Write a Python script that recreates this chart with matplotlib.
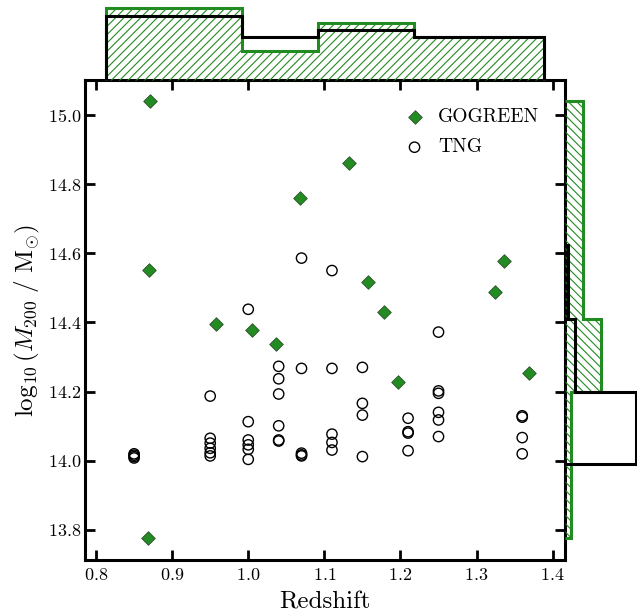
import matplotlib
matplotlib.use('Agg')
import matplotlib.pyplot as plt

plt.rcParams['font.family'] = ['cmr10', 'DejaVu Serif']
plt.rcParams['mathtext.fontset'] = 'cm'
plt.rcParams['axes.formatter.use_mathtext'] = True
plt.rcParams['hatch.linewidth'] = 0.8

# ---- data ----
gogreen_z = [0.871, 0.870, 0.957, 1.005, 1.036, 1.068, 1.132, 1.158, 1.178,
             1.197, 1.324, 1.336, 1.369, 0.868]
gogreen_m = [15.040, 14.553, 14.396, 14.377, 14.339, 14.759, 14.860, 14.516,
             14.429, 14.229, 14.489, 14.578, 14.253, 13.778]

tng_z = ([0.85] * 4 + [0.95] * 6 + [1.00] * 6 + [1.04] * 6 + [1.07] * 5 +
         [1.11] * 5 + [1.15] * 4 + [1.21] * 4 + [1.25] * 6 + [1.36] * 4)
tng_m = [14.020, 14.016, 14.012, 14.008,
         14.187, 14.065, 14.051, 14.036, 14.023, 14.014,
         14.438, 14.113, 14.060, 14.046, 14.033, 14.004,
         14.273, 14.237, 14.193, 14.101, 14.060, 14.057,
         14.586, 14.267, 14.022, 14.017, 14.014,
         14.550, 14.267, 14.077, 14.053, 14.031,
         14.270, 14.166, 14.132, 14.012,
         14.123, 14.084, 14.080, 14.029,
         14.372, 14.202, 14.195, 14.140, 14.118, 14.070,
         14.130, 14.126, 14.067, 14.020]

# marginal histograms (relative heights)
top_edges = [0.813, 0.992, 1.091, 1.218, 1.388]
top_gogreen = [72.2, 28.8, 57.2, 42.8]
top_tng = [64.5, 42.8, 50.2, 42.8]
right_gogreen_edges = [13.778, 14.199, 14.409, 15.040]
right_gogreen = [6.0, 35.7, 17.7]
right_tng_edges = [13.990, 14.199, 14.409, 14.624]
right_tng = [71.0, 10.0, 3.0]

xticks = [0.8, 0.9, 1.0, 1.1, 1.2, 1.3, 1.4]
yticks = [13.8, 14.0, 14.2, 14.4, 14.6, 14.8, 15.0]

GREEN = '#228B22'

# ---- layout ----
W, H = 637, 614
fig = plt.figure(figsize=(W / 100, H / 100), dpi=100)
L, R, B, T = 85, 565, 560, 80
ax = fig.add_axes([L / W, 1 - B / H, (R - L) / W, (B - T) / H])
ax_top = fig.add_axes([L / W, 1 - T / H, (R - L) / W, T / H], sharex=ax)
ax_right = fig.add_axes([R / W, 1 - B / H, (W - R) / W, (B - T) / H], sharey=ax)

# ---- main scatter ----
ax.scatter(gogreen_z, gogreen_m, marker='D', s=48, c=GREEN,
           edgecolors='#2f4f2f', linewidths=0.6, label='GOGREEN', zorder=3)
ax.scatter(tng_z, tng_m, marker='o', s=55, facecolors='none',
           edgecolors='black', linewidths=1.0, label='TNG', zorder=2)

ax.set_xlim(0.7855, 1.4162)
ax.set_ylim(13.713, 15.101)
ax.set_xticks(xticks)
ax.set_yticks(yticks)
ax.tick_params(direction='in', length=7, width=2, top=True, right=True,
               labelsize=13)
ax.tick_params(axis='x', pad=5)
ax.tick_params(axis='y', pad=2.5)
for s in ax.spines.values():
    s.set_linewidth(2.2)
ax.set_xlabel('Redshift', fontsize=18, labelpad=6)
ax.set_ylabel(r'$\log_{10}(M_{200}\ /\ \mathrm{M}_{\odot})$', fontsize=18)

ax.legend(loc='upper right', bbox_to_anchor=(0.962, 0.957), borderaxespad=0,
          frameon=False, fontsize=14, handlelength=1.0, handletextpad=0.7,
          labelspacing=0.62, scatterpoints=1)

# ---- top histogram ----
ax_top.stairs(top_gogreen, top_edges, baseline=0, fill=True, facecolor='none',
              edgecolor=GREEN, hatch='////', linewidth=2.2, clip_on=False)
ax_top.stairs(top_tng, top_edges, baseline=0, fill=False, edgecolor='black',
              linewidth=2.2, clip_on=False)
ax_top.set_ylim(0, 80)
ax_top.axis('off')

# ---- right histogram ----
ax_right.stairs(right_gogreen, right_gogreen_edges, baseline=0,
                orientation='horizontal', fill=True, facecolor='none',
                edgecolor=GREEN, hatch='\\\\\\\\', linewidth=2.2, clip_on=False)
ax_right.stairs(right_tng, right_tng_edges, baseline=0,
                orientation='horizontal', fill=False, edgecolor='black',
                linewidth=2.2, clip_on=False)
ax_right.set_xlim(0, 72)
ax_right.axis('off')

fig.savefig('out.png', dpi=100)
